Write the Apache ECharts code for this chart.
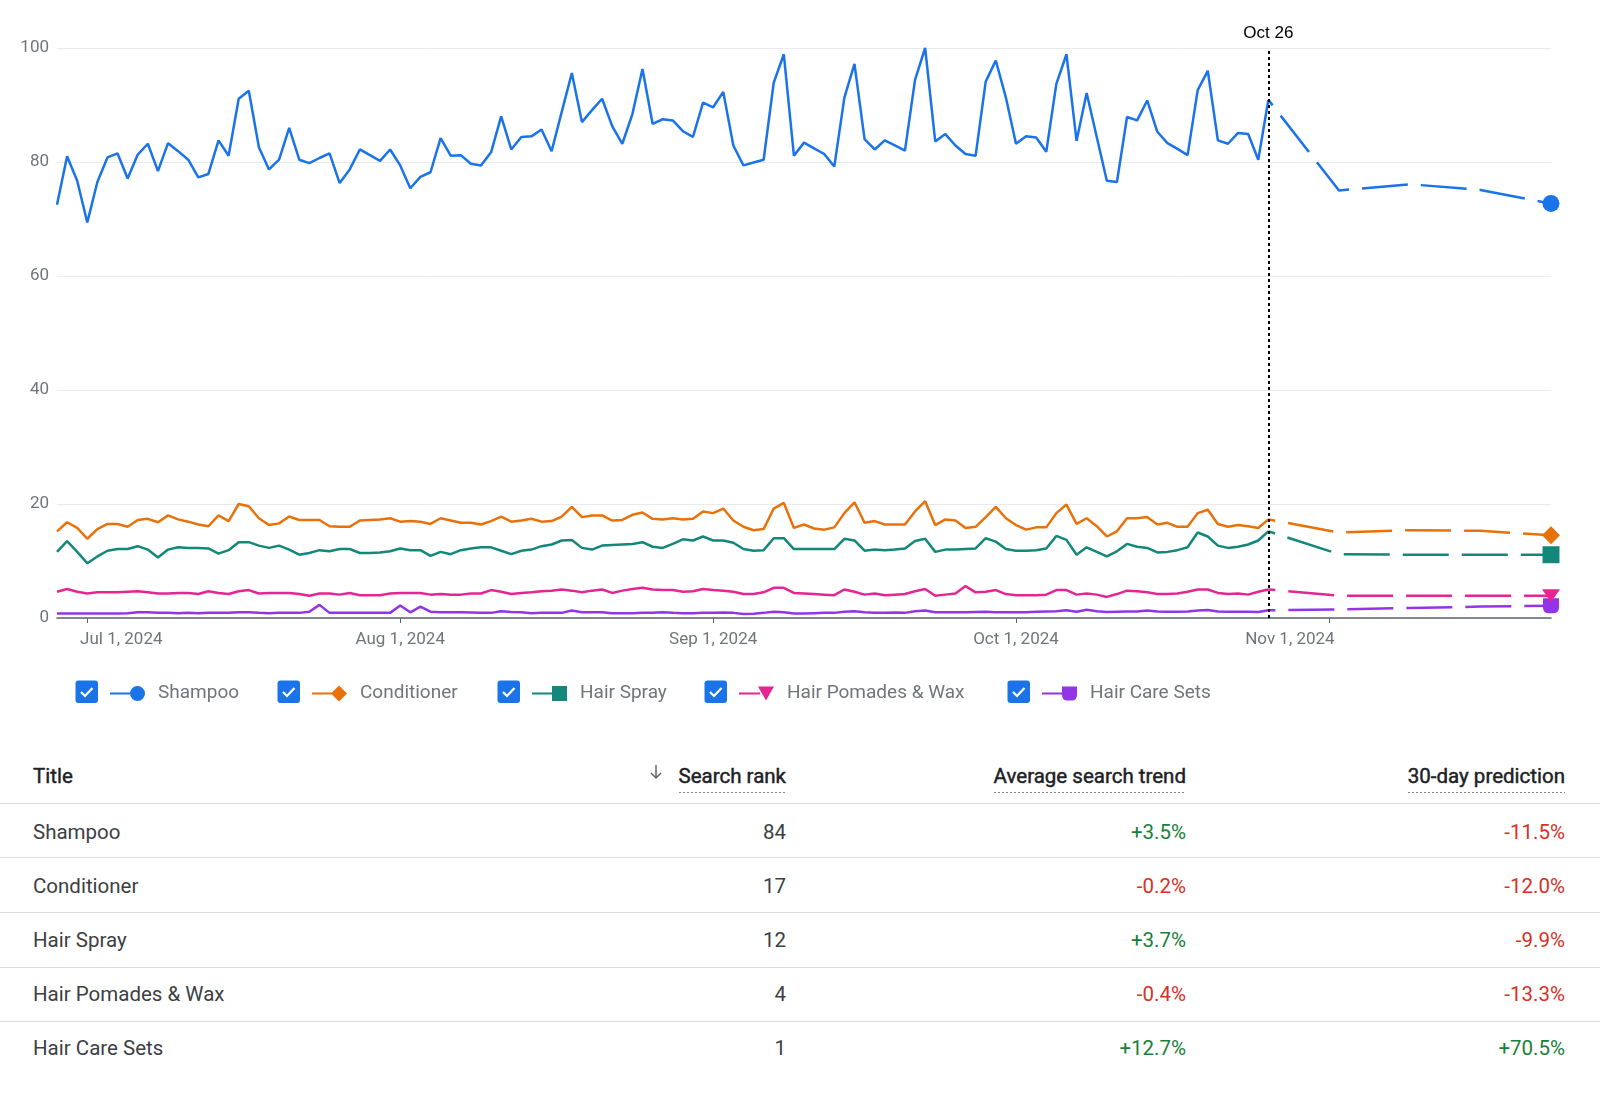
<!DOCTYPE html>
<html><head><meta charset="utf-8">
<script src="https://cdn.jsdelivr.net/npm/echarts@6/dist/echarts.min.js"></script>
<style>
html,body{margin:0;padding:0;background:#fff;}
#chart{position:absolute;left:0;top:0;width:1600px;height:740px;}
.t{position:absolute;font-family:Roboto,sans-serif;font-size:20.5px;line-height:24px;color:#3c4043;white-space:nowrap;}
.h{font-weight:400;color:#202124;-webkit-text-stroke:0.45px #202124;}
.ul{display:inline-block;padding-bottom:5px;background-image:repeating-linear-gradient(to right,#80868b 0 2px,transparent 2px 4px);background-size:100% 1px;background-position:left bottom;background-repeat:no-repeat;}
.rule{position:absolute;left:0;width:1600px;height:1px;background:#dadce0;}
</style></head><body>
<div id="chart"></div>
<div id="table"></div>
<script>
// ---------- DATA ----------
const seriesNames = ['Shampoo', 'Conditioner', 'Hair Spray', 'Hair Pomades & Wax', 'Hair Care Sets'];
const monthNames = ['Jun', 'Jul', 'Aug', 'Sep', 'Oct', 'Nov'];
const monthLengths = [30, 31, 31, 30, 31, 30];
const firstDay = 28;   // Jun 28
const lastDay = 23;    // Nov 23
const cutoffDate = 'Oct 26';
const predictionDates = ['Oct 26', 'Nov 2', 'Nov 9', 'Nov 16', 'Nov 23'];

const shampoo = [
  72.5, 81.0, 76.7, 69.4, 76.5, 80.8, 81.5, 77.1, 81.3, 83.2,
  78.4, 83.3, 81.9, 80.4, 77.3, 77.9, 83.8, 81.1, 91.1, 92.5,
  82.6, 78.7, 80.4, 86.0, 80.4, 79.8, 80.7, 81.5, 76.3, 78.7,
  82.2, 81.2, 80.2, 82.2, 79.4, 75.4, 77.4, 78.2, 84.2, 81.1,
  81.2, 79.7, 79.4, 81.7, 88.0, 82.2, 84.4, 84.5, 85.7, 81.9,
  88.8, 95.6, 87.0, 89.1, 91.1, 86.3, 83.2, 88.4, 96.3, 86.7,
  87.5, 87.3, 85.4, 84.4, 90.4, 89.6, 92.3, 82.9, 79.4, 79.9,
  80.4, 93.9, 98.9, 81.1, 83.4, 82.4, 81.4, 79.2, 91.3, 97.2,
  84.0, 82.2, 83.8, 82.9, 82.0, 94.4, 100, 83.6, 84.9, 82.9,
  81.4, 81.1, 94.1, 97.8, 91.3, 83.2, 84.5, 84.3, 81.8, 93.7,
  98.9, 83.7, 92.1, 84.4, 76.7, 76.5, 87.9, 87.3, 90.8, 85.3,
  83.3, 82.3, 81.2, 92.6, 96.0, 83.8, 83.2, 85.1, 84.9, 80.4,
  90.9
];
const conditioner = [
  15.2, 16.8, 15.8, 13.9, 15.6, 16.5, 16.5, 16.0, 17.2, 17.4,
  16.8, 18.0, 17.3, 16.9, 16.4, 16.1, 18.0, 17.0, 20.0, 19.6,
  17.5, 16.3, 16.6, 17.8, 17.2, 17.2, 17.2, 16.1, 16.0, 16.0,
  17.1, 17.2, 17.3, 17.5, 16.9, 17.0, 16.9, 16.5, 17.5, 17.1,
  16.7, 16.7, 16.4, 17.0, 17.8, 16.9, 17.1, 17.4, 16.9, 17.0,
  17.8, 19.5, 17.7, 18.0, 18.0, 17.1, 17.2, 18.1, 18.5, 17.4,
  17.3, 17.5, 17.3, 17.4, 18.7, 18.4, 19.2, 17.1, 16.0, 15.4,
  15.6, 19.2, 20.2, 15.8, 16.4, 15.7, 15.5, 15.9, 18.4, 20.3,
  16.7, 17.0, 16.4, 16.4, 16.4, 18.7, 20.5, 16.3, 17.3, 17.1,
  15.8, 16.0, 17.7, 19.5, 17.5, 16.3, 15.5, 15.9, 15.9, 18.4,
  19.9, 16.5, 17.5, 16.1, 14.3, 15.2, 17.5, 17.5, 17.7, 16.4,
  16.7, 16.0, 16.0, 18.4, 19.0, 16.5, 16.0, 16.3, 16.1, 15.8,
  17.3
];
const hairSpray = [
  11.6, 13.5, 11.6, 9.6, 10.8, 11.8, 12.1, 12.1, 12.6, 12.0,
  10.6, 12.0, 12.4, 12.3, 12.3, 12.2, 11.3, 11.9, 13.3, 13.3,
  12.7, 12.3, 12.7, 12.0, 11.1, 11.4, 11.9, 11.7, 12.1, 12.1,
  11.4, 11.4, 11.5, 11.7, 12.2, 11.9, 11.9, 10.9, 11.6, 11.2,
  11.9, 12.2, 12.4, 12.4, 11.8, 11.2, 11.8, 12.0, 12.6, 12.9,
  13.6, 13.7, 12.3, 12.0, 12.7, 12.8, 12.9, 13.0, 13.3, 12.5,
  12.3, 13.0, 13.8, 13.6, 14.3, 13.6, 13.6, 13.2, 12.1, 11.8,
  11.9, 14.0, 14.0, 12.1, 12.1, 12.1, 12.1, 12.1, 13.9, 13.6,
  11.8, 12.0, 11.9, 12.0, 12.2, 13.5, 13.9, 11.6, 12.0, 12.0,
  12.1, 12.2, 14.0, 13.4, 12.1, 11.8, 11.8, 11.9, 12.2, 14.4,
  13.7, 11.1, 12.4, 11.6, 10.8, 11.7, 13.0, 12.5, 12.3, 11.5,
  11.6, 11.9, 12.4, 15.0, 14.3, 12.7, 12.3, 12.5, 12.9, 13.6,
  15.2
];
const pomades = [
  4.6, 5.1, 4.6, 4.3, 4.5, 4.5, 4.5, 4.6, 4.7, 4.5,
  4.3, 4.3, 4.4, 4.4, 4.2, 4.7, 4.4, 4.2, 4.7, 4.9,
  4.3, 4.4, 4.4, 4.4, 4.2, 3.9, 4.3, 4.3, 4.1, 4.4,
  4.0, 4.0, 4.0, 4.3, 4.4, 4.4, 4.4, 4.1, 4.2, 4.1,
  4.1, 4.3, 4.3, 4.9, 4.6, 4.2, 4.4, 4.5, 4.7, 4.8,
  5.0, 4.8, 4.5, 4.8, 5.0, 4.4, 4.8, 5.1, 5.3, 5.0,
  4.9, 4.9, 4.6, 4.7, 5.1, 4.9, 4.8, 4.6, 4.2, 4.2,
  4.5, 5.3, 5.3, 4.4, 4.3, 4.2, 4.1, 4.0, 5.0, 4.6,
  4.1, 4.3, 4.0, 4.1, 4.2, 4.7, 5.1, 3.9, 4.1, 4.3,
  5.6, 4.5, 4.6, 4.9, 4.2, 4.0, 4.0, 4.0, 4.1, 4.9,
  4.9, 4.1, 4.3, 4.1, 3.7, 4.2, 4.8, 4.7, 4.5, 4.2,
  4.2, 4.3, 4.6, 5.0, 5.0, 4.4, 4.2, 4.3, 4.1, 4.6,
  5.0
];
const careSets = [
  0.8, 0.8, 0.8, 0.8, 0.8, 0.8, 0.8, 0.85, 1.0, 1.0,
  0.9, 0.9, 0.85, 0.9, 0.85, 0.9, 0.9, 0.9, 1.0, 1.0,
  0.9, 0.85, 0.9, 0.9, 0.9, 1.1, 2.3, 0.9, 0.9, 0.9,
  0.9, 0.9, 0.9, 0.9, 2.2, 1.0, 2.0, 1.1, 1.0, 1.0,
  1.0, 0.95, 0.9, 0.9, 1.2, 1.05, 1.0, 0.85, 0.9, 0.9,
  0.9, 1.3, 1.0, 1.0, 1.0, 0.85, 0.85, 0.85, 0.9, 0.9,
  1.0, 0.9, 0.85, 0.85, 0.9, 0.9, 0.95, 0.9, 0.7, 0.75,
  0.9, 1.1, 1.0, 0.8, 0.8, 0.85, 0.9, 0.9, 1.1, 1.2,
  1.0, 0.9, 0.9, 0.95, 0.9, 1.2, 1.3, 1.0, 1.0, 1.0,
  1.0, 1.05, 1.1, 1.0, 1.0, 1.0, 1.0, 1.1, 1.15, 1.2,
  1.35, 1.1, 1.45, 1.2, 1.05, 1.1, 1.15, 1.15, 1.3, 1.15,
  1.1, 1.1, 1.15, 1.3, 1.4, 1.15, 1.1, 1.1, 1.1, 1.05,
  1.35
];
const shampooPred = [90.9, 75.0, 76.1, 75.1, 72.7];
const conditionerPred = [17.3, 15.0, 15.4, 15.3, 14.5];
const hairSprayPred = [15.2, 11.2, 11.1, 11.1, 11.1];
const pomadesPred = [5.0, 3.9, 3.9, 3.9, 3.9];
const careSetsPred = [1.35, 1.5, 1.75, 2.0, 2.15];

const yTicks = [0, 20, 40, 60, 80, 100];
const year = '2024';

// table
const searchRank = [84, 17, 12, 4, 1];
const avgTrend = ['+3.5%', '-0.2%', '+3.7%', '-0.4%', '+12.7%'];
const prediction30 = ['-11.5%', '-12.0%', '-9.9%', '-13.3%', '+70.5%'];

// ---------- STYLE ----------
const colors = ['#1a73e8', '#e8710a', '#12877a', '#e52592', '#9334e6'];
const endSymbols = [
  {symbol: 'circle', size: 17},
  {symbol: 'diamond', size: [18, 18]},
  {symbol: 'rect', size: [17, 17]},
  {symbol: 'path://M0,0H18L9,13Z', size: [18, 13]},
  {symbol: 'path://M0,0H16V9Q16,15 10,15H6Q0,15 0,9Z', size: [16, 15]}
];
const legendIcons = [
  'path://M0,0M43,16M0,7H20V9H0Z M20,8A7.5,7.5 0 1 1 35,8A7.5,7.5 0 1 1 20,8Z',
  'path://M0,0M43,16M0,7H21V9H0Z M19,8L27,0L35,8L27,16Z',
  'path://M0,0M43,16M0,7H21V9H0Z M20,0.5H35V15.5H20Z',
  'path://M0,0M43,16M0,7H21V9H0Z M19,1H35L27,15Z',
  'path://M0,0M43,16M0,7H21V9H0Z M20,1H35V9Q35,15 30,15H25Q20,15 20,9Z'
];
const legendLefts = [110, 312, 532, 739, 1042];

// ---------- BUILD ----------
const categories = [];
for (let m = 0; m < monthNames.length; m++) {
  for (let d = 1; d <= monthLengths[m]; d++) {
    if (m === 0 && d < firstDay) continue;
    if (m === monthNames.length - 1 && d > lastDay) break;
    categories.push(monthNames[m] + ' ' + d);
  }
}
const actualData = [shampoo, conditioner, hairSpray, pomades, careSets];
const predData = [shampooPred, conditionerPred, hairSprayPred, pomadesPred, careSetsPred];

function buildPred(vals, i) {
  const arr = categories.map(() => null);
  predictionDates.forEach((dt, k) => {
    const idx = categories.indexOf(dt);
    if (k === predictionDates.length - 1) {
      arr[idx] = {value: vals[k], symbol: endSymbols[i].symbol, symbolSize: endSymbols[i].size,
        itemStyle: {color: colors[i], opacity: 1}};
    } else {
      arr[idx] = vals[k];
    }
  });
  return arr;
}

const series = [];
for (let i = seriesNames.length - 1; i >= 0; i--) {
  series.push({
    name: seriesNames[i], type: 'line', data: actualData[i], symbol: 'none',
    lineStyle: {color: colors[i], width: 2.5}, itemStyle: {color: colors[i]},
    emphasis: {disabled: true}, z: 2
  });
  series.push({
    name: seriesNames[i], type: 'line', data: buildPred(predData[i], i), symbol: 'none',
    connectNulls: true, showSymbol: true, showAllSymbol: true,
    lineStyle: {color: colors[i], width: 2.5, type: [46, 13], dashOffset: 39},
    itemStyle: {color: colors[i]}, emphasis: {disabled: true}, z: 3
  });
}
series.push({
  name: '__cutoff', type: 'line', data: [], z: 10,
  markLine: {
    silent: true, symbol: ['none', 'none'], animation: false,
    data: [{xAxis: cutoffDate}],
    lineStyle: {color: '#000', type: [3, 3], width: 2},
    label: {show: true, position: 'end', formatter: cutoffDate, color: '#000',
      fontSize: 17, fontFamily: 'Liberation Sans, Arial, sans-serif', distance: 6}
  }
});

const chart = echarts.init(document.getElementById('chart'), null, {renderer: 'canvas'});
chart.setOption({
  animation: false,
  backgroundColor: '#fff',
  textStyle: {fontFamily: 'Roboto, sans-serif'},
  grid: {left: 57, right: 49, top: 48, height: 570},
  xAxis: {
    type: 'category', data: categories, boundaryGap: false,
    axisLine: {lineStyle: {color: '#5f6368', width: 1.5}},
    axisTick: {show: true, length: 5, lineStyle: {color: '#5f6368', width: 1},
      interval: (idx, val) => /\s1$/.test(val)},
    axisLabel: {
      interval: (idx, val) => /\s1$/.test(val),
      color: '#70757a', fontSize: 17, margin: 13, fontFamily: 'Roboto',
      formatter: (val) => {
        const s = val + ', ' + year;
        if (val === 'Jul 1') return '{a|' + s + '}';
        if (val === 'Nov 1') return '{b|' + s + '}';
        return s;
      },
      rich: {
        a: {padding: [0, 0, 0, 68], fontSize: 17, color: '#70757a', fontFamily: 'Roboto'},
        b: {padding: [0, 78, 0, 0], fontSize: 17, color: '#70757a', fontFamily: 'Roboto'}
      }
    },
    splitLine: {show: false}
  },
  yAxis: {
    type: 'value', min: yTicks[0], max: yTicks[yTicks.length - 1], interval: yTicks[1] - yTicks[0],
    axisLine: {show: false}, axisTick: {show: false},
    axisLabel: {color: '#70757a', fontSize: 17, margin: 8, fontFamily: 'Roboto'},
    splitLine: {lineStyle: {color: '#e8eaed', width: 1}}
  },
  legend: seriesNames.map((n, i) => ({
    left: legendLefts[i], top: 684, padding: 0, selectedMode: false,
    itemWidth: 43, itemHeight: 16,
    data: [{name: n, icon: legendIcons[i], itemStyle: {color: colors[i]}}],
    textStyle: {color: '#70757a', fontSize: 19, fontFamily: 'Roboto'}
  })),
  graphic: legendLefts.map((x) => ({
    type: 'group', x: x - 34.5, y: 680.5,
    children: [
      {type: 'rect', shape: {x: 0, y: 0, width: 22.5, height: 22.5, r: 3}, style: {fill: '#1a73e8'}},
      {type: 'polyline', shape: {points: [[5.5, 11.5], [9.5, 15.5], [17, 7.5]]},
        style: {stroke: '#fff', lineWidth: 2.2, fill: null}}
    ]
  })),
  series: series
});

// ---------- TABLE ----------
const tbl = document.getElementById('table');
let html = '';
const rowCenters = [831.7, 886, 940, 994, 1048.3];
const ruleYs = [802.5, 857.3, 912, 966.7, 1021];
ruleYs.forEach(y => { html += `<div class="rule" style="top:${y}px"></div>`; });
const hc = 776;
html += `<div class="t h" style="left:33px;top:${hc - 12}px">Title</div>`;
html += `<svg style="position:absolute;left:649px;top:764px" width="14" height="16"><path d="M7,1V14M2,9L7,14L12,9" stroke="#5f6368" stroke-width="1.5" fill="none"/></svg>`;
html += `<div class="t h" style="right:${1600 - 786}px;top:${hc - 12}px"><span class="ul">Search rank</span></div>`;
html += `<div class="t h" style="right:${1600 - 1186}px;top:${hc - 12}px"><span class="ul">Average search trend</span></div>`;
html += `<div class="t h" style="right:${1600 - 1565}px;top:${hc - 12}px"><span class="ul">30-day prediction</span></div>`;
const green = '#188038', red = '#d93025';
seriesNames.forEach((n, i) => {
  const c = rowCenters[i] - 12;
  html += `<div class="t" style="left:33px;top:${c}px">${n.replace('&', '&amp;')}</div>`;
  html += `<div class="t" style="right:${1600 - 786}px;top:${c}px">${searchRank[i]}</div>`;
  html += `<div class="t" style="right:${1600 - 1186}px;top:${c}px;color:${avgTrend[i][0] === '+' ? green : red}">${avgTrend[i]}</div>`;
  html += `<div class="t" style="right:${1600 - 1565}px;top:${c}px;color:${prediction30[i][0] === '+' ? green : red}">${prediction30[i]}</div>`;
});
tbl.innerHTML = html;
</script>
</body></html>
